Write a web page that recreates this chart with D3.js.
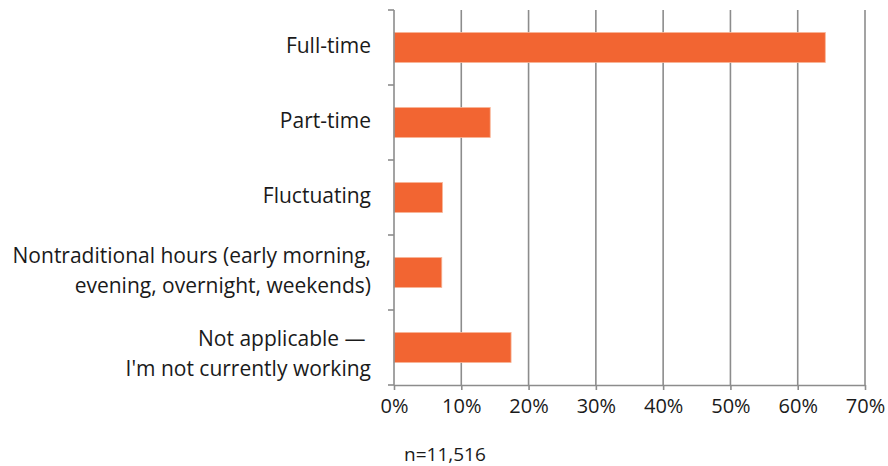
<!DOCTYPE html>
<html>
<head>
<meta charset="utf-8">
<script src="https://cdn.jsdelivr.net/npm/d3@7"></script>
<style>
  body { margin: 0; background: #fff; }
  svg { display: block; }
  text { font-family: "Open Sans", sans-serif; fill: #1a1a1a; }
</style>
</head>
<body>
<svg id="chart"></svg>
<script>
  // Data
  var categories = [
    ['Full-time'],
    ['Part-time'],
    ['Fluctuating'],
    ['Nontraditional hours (early morning,', 'evening, overnight, weekends)'],
    ['Not applicable \u2014 ', 'I\'m not currently working']
  ]
  var values = [64.1, 14.3, 7.2, 7.1, 17.4]
  var xTicks = [0, 10, 20, 30, 40, 50, 60, 70]
  var note = 'n=11,516'

  // Layout
  var WIDTH = 888
  var HEIGHT = 466
  var margin = { top: 10, right: 23, bottom: 81, left: 394 }
  var GRID_COLOR = '#8c8c8c'
  var BAR_COLOR = '#f26532'

  var svg = d3.select('#chart')
    .attr('width', WIDTH)
    .attr('height', HEIGHT)

  var innerW = WIDTH - margin.left - margin.right
  var innerH = HEIGHT - margin.top - margin.bottom

  var g = svg.append('g')
    .attr('transform', 'translate(' + margin.left + ',' + margin.top + ')')

  var x = d3.scaleLinear().domain([0, 70]).range([0, innerW])
  var y = d3.scaleBand()
    .domain(d3.range(categories.length))
    .range([0, innerH])
    .paddingInner(0.6)
    .paddingOuter(0.3)

  // gridlines
  g.append('g')
    .selectAll('line')
    .data(xTicks.slice(1))
    .enter().append('line')
    .attr('x1', function (d) { return x(d) })
    .attr('x2', function (d) { return x(d) })
    .attr('y1', 0)
    .attr('y2', innerH)
    .attr('stroke', GRID_COLOR)
    .attr('stroke-width', 1.6)

  // bars
  g.append('g')
    .selectAll('rect')
    .data(values)
    .enter().append('rect')
    .attr('x', 0)
    .attr('y', function (d, i) { return y(i) })
    .attr('width', function (d) { return x(d) })
    .attr('height', y.bandwidth())
    .attr('fill', BAR_COLOR)
    .attr('stroke', '#f8b597')
    .attr('stroke-width', 0.8)

  // bottom axis
  var xAxis = d3.axisBottom(x)
    .tickValues(xTicks)
    .tickFormat(function (d) { return d + '%' })
    .tickSizeInner(5)
    .tickSizeOuter(0)
    .tickPadding(9)
  var xg = g.append('g')
    .attr('transform', 'translate(0,' + innerH + ')')
    .call(xAxis)
  xg.select('.domain').attr('stroke', GRID_COLOR).attr('stroke-width', 1.6)
  xg.selectAll('.tick line').attr('stroke', GRID_COLOR).attr('stroke-width', 1.6)
  xg.selectAll('.tick text')
    .style('font-family', '"Open Sans", sans-serif')
    .attr('font-size', 20)
    .attr('fill', '#1a1a1a')

  // left axis: band boundaries as ticks
  var step = innerH / categories.length
  var bounds = d3.range(categories.length + 1).map(function (i) { return i * step })
  g.append('line')
    .attr('x1', 0).attr('x2', 0)
    .attr('y1', 0).attr('y2', innerH)
    .attr('stroke', GRID_COLOR)
    .attr('stroke-width', 1.6)
  g.append('g')
    .selectAll('line')
    .data(bounds)
    .enter().append('line')
    .attr('x1', -6).attr('x2', 0)
    .attr('y1', function (d) { return d })
    .attr('y2', function (d) { return d })
    .attr('stroke', GRID_COLOR)
    .attr('stroke-width', 1.6)

  // category labels
  var labelShift = [0, 0, 0, 0, 8]
  var lineH = 30
  g.append('g')
    .selectAll('text')
    .data(categories)
    .enter().append('text')
    .attr('text-anchor', 'end')
    .attr('font-size', 21)
    .each(function (lines, i) {
      var cy = y(i) + y.bandwidth() / 2 + labelShift[i]
      var top = cy - (lines.length - 1) * lineH / 2 + 5
      d3.select(this).selectAll('tspan')
        .data(lines)
        .enter().append('tspan')
        .attr('x', -23)
        .attr('y', function (d, j) { return top + j * lineH })
        .text(function (d) { return d })
    })

  // sample size note
  svg.append('text')
    .attr('x', 404)
    .attr('y', 461)
    .attr('font-size', 19)
    .text(note)
</script>
</body>
</html>
